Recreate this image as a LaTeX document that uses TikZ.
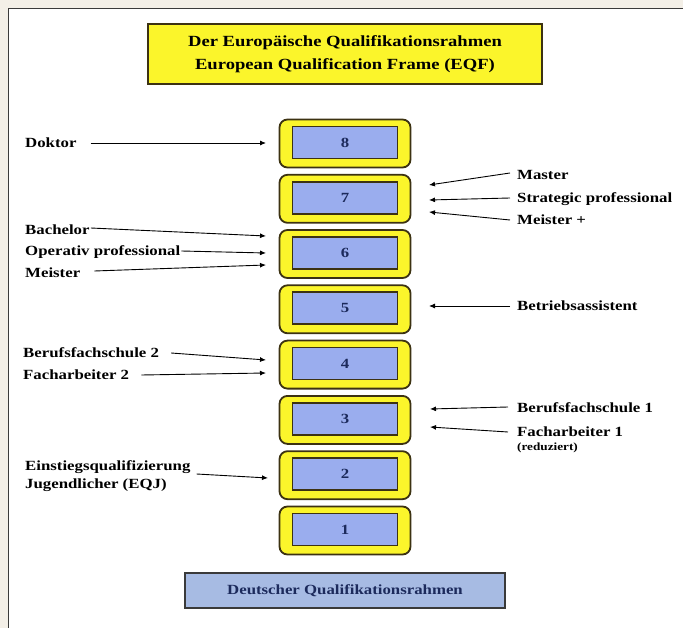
\documentclass[tikz,border=0pt]{standalone}
\usepackage{fontspec}
\setmainfont{Liberation Serif}[FakeStretch=1.2]
\usetikzlibrary{arrows.meta}
\definecolor{bg}{HTML}{F3EFE7}
\definecolor{framec}{HTML}{3A3A3A}
\definecolor{yel}{HTML}{FBF52B}
\definecolor{boxline}{HTML}{3C3212}
\definecolor{lblue}{HTML}{9AADEE}
\definecolor{dqrblue}{HTML}{A7BBE3}
\definecolor{navy}{HTML}{1C2A5C}
\begin{document}
\begin{tikzpicture}[x=1pt,y=-1pt,
  lvl/.style={draw=boxline, line width=1.8pt, fill=yel, rounded corners=8pt,
    minimum width=131pt, minimum height=48pt, inner sep=0pt},
  innerbox/.style={draw=boxline, line width=1.6pt, fill=lblue, minimum width=105pt,
    minimum height=32pt, inner sep=0pt, font=\bfseries\fontsize{14}{16}\selectfont, text=navy},
  lab/.style={font=\bfseries\fontsize{14}{18}\selectfont, inner sep=0pt, anchor=west, align=left},
  smalllab/.style={font=\bfseries\fontsize{11}{13}\selectfont, inner sep=0pt, anchor=west},
  arr/.style={-{Latex[length=6pt,width=5pt]}, line width=0.9pt}]
\useasboundingbox (0,0) rectangle (683,628);
\fill[bg] (0,0) rectangle (683,628);
\fill[white] (8.5,8.5) rectangle (683,628);
\draw[framec, line width=1.6pt] (8.5,628) -- (8.5,8.5) -- (683,8.5);

% title
\node[draw=boxline, line width=1.5pt, fill=yel, minimum width=394pt, minimum height=60pt,
  align=center, inner sep=0pt, font=\bfseries\fontsize{15.5}{23}\selectfont] (title) at (345,54)
  {Der Europäische Qualifikationsrahmen\\European Qualification Frame (EQF)};

% levels
\foreach \n/\y in {8/143.5,7/198.8,6/254,5/309.3,4/364.6,3/419.9,2/475.2,1/530.5}{
  \node[lvl] (l\n) at (345,\y) {};
  \node[innerbox] (i\n) at (345,\y-1) {\n};
}

% bottom box
\node[draw=framec, line width=1.6pt, fill=dqrblue, minimum width=320pt, minimum height=35pt,
  inner sep=0pt, text=navy, font=\bfseries\fontsize{14}{16}\selectfont] (dqr) at (345,590.5)
  {Deutscher Qualifikationsrahmen};

% left labels
\node[lab] (dok) at (25,143) {Doktor};
\node[lab] (bach) at (25,230) {Bachelor};
\node[lab] (opp) at (25,252) {Operativ professional};
\node[lab] (mei) at (25,273) {Meister};
\node[lab] (bfs2) at (23,353) {Berufsfachschule 2};
\node[lab] (fa2) at (23,375) {Facharbeiter 2};
\node[lab] (eqj) at (25,476) {Einstiegsqualifizierung\\Jugendlicher (EQJ)};

% right labels
\node[lab] (mas) at (517,175) {Master};
\node[lab] (stp) at (517,199) {Strategic professional};
\node[lab] (meip) at (517,220) {Meister +};
\node[lab] (bas) at (517,306) {Betriebsassistent};
\node[lab] (bfs1) at (517,408) {Berufsfachschule 1};
\node[lab] (fa1) at (517,432) {Facharbeiter 1};
\node[smalllab] (red) at (517,448) {(reduziert)};

% arrow tips
\coordinate (tdok) at (266,143);
\coordinate (tbach) at (266,236);
\coordinate (topp) at (266,253);
\coordinate (tmei) at (266,265);
\coordinate (tbfs2) at (266,360);
\coordinate (tfa2) at (266,373);
\coordinate (teqj) at (268,478);
\coordinate (tmas) at (429,185);
\coordinate (tstp) at (429,200);
\coordinate (tmeip) at (429,212);
\coordinate (tbas) at (429,306);
\coordinate (tbfs1) at (430,409);
\coordinate (tfa1) at (430,427);

\draw[arr] ([xshift=14pt]dok.east) -- (tdok);
\draw[arr] ([xshift=1pt,yshift=2pt]bach.east) -- (tbach);
\draw[arr] ([xshift=1pt,yshift=1pt]opp.east) -- (topp);
\draw[arr] ([xshift=14pt,yshift=2pt]mei.east) -- (tmei);
\draw[arr] ([xshift=12pt]bfs2.east) -- (tbfs2);
\draw[arr] ([xshift=12pt]fa2.east) -- (tfa2);
\draw[arr] ([xshift=6pt,yshift=2pt]eqj.east) -- (teqj);
\draw[arr] ([xshift=-7pt,yshift=2pt]mas.west) -- (tmas);
\draw[arr] ([xshift=-7pt,yshift=1pt]stp.west) -- (tstp);
\draw[arr] ([xshift=-7pt]meip.west) -- (tmeip);
\draw[arr] ([xshift=-7pt]bas.west) -- (tbas);
\draw[arr] ([xshift=-9pt,yshift=1pt]bfs1.west) -- (tbfs1);
\draw[arr] ([xshift=-9pt]fa1.west) -- (tfa1);
\end{tikzpicture}
\end{document}
